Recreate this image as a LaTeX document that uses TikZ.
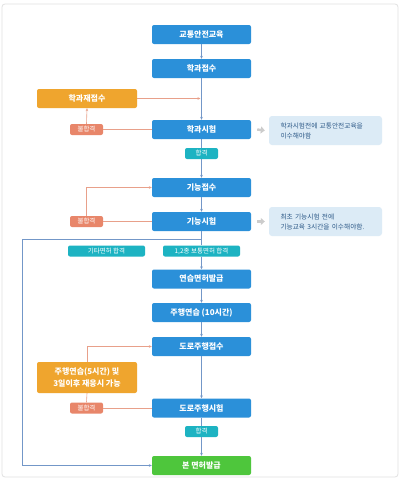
\documentclass[tikz,border=0pt]{standalone}
\usepackage{fontspec}
\setmainfont{Noto Sans CJK KR}
\usetikzlibrary{arrows.meta}
\definecolor{boxblue}{HTML}{2B90D9}
\definecolor{boxorange}{HTML}{EFA52E}
\definecolor{boxsalmon}{HTML}{E8866A}
\definecolor{boxteal}{HTML}{1DB3C2}
\definecolor{boxgreen}{HTML}{4EC63C}
\definecolor{notebg}{HTML}{DCEBF6}
\definecolor{notetext}{HTML}{2E5A88}
\definecolor{lineblue}{HTML}{7397C8}
\definecolor{lineorange}{HTML}{E8A08A}
\definecolor{framegray}{HTML}{E2E2E2}
\begin{document}
\begin{tikzpicture}[x=1pt,y=-1pt,
  every node/.style={inner sep=0pt},
  mainbox/.style={rounded corners=2pt, fill=boxblue, text=white, minimum width=99pt, minimum height=19pt, font=\bfseries\fontsize{8}{9}\selectfont},
  greenbox/.style={mainbox, fill=boxgreen},
  orangebox/.style={rounded corners=2pt, fill=boxorange, text=white, minimum width=100pt, minimum height=19pt, align=center, font=\bfseries\fontsize{8}{11.7}\selectfont},
  faillabel/.style={rounded corners=2pt, fill=boxsalmon, text=white, minimum width=33pt, minimum height=11pt, font=\fontsize{6.5}{7}\selectfont},
  passlabel/.style={rounded corners=2pt, fill=boxteal, text=white, minimum width=33pt, minimum height=11pt, font=\fontsize{6.5}{7}\selectfont},
  notebox/.style={rounded corners=3pt, fill=notebg, text=notetext, text width=90pt, inner xsep=11.5pt, minimum height=29pt, align=left, font=\fontsize{6.7}{10}\selectfont},
  bluearrow/.style={draw=lineblue, line width=0.6pt, -{Stealth[length=3pt,width=2.6pt]}},
  blueline/.style={draw=lineblue, line width=0.6pt},
  orangearrow/.style={draw=lineorange, line width=0.6pt, -{Stealth[length=3pt,width=2.6pt]}},
  orangeline/.style={draw=lineorange, line width=0.6pt},
  grayarrow/.style={draw=gray!40, line width=2.4pt, -{Triangle[length=4pt,width=7pt]}}
]
\useasboundingbox (0,0) rectangle (400,479);
\fill[white] (0,0) rectangle (400,479);
\draw[framegray, line width=0.8pt, rounded corners=3pt] (2,4) rectangle (398,477);

% main column
\node[mainbox] (n1) at (201.5,34.5) {교통안전교육};
\node[mainbox] (n2) at (201.5,68.5) {학과접수};
\node[orangebox] (re1) at (87,98.5) {학과재접수};
\node[mainbox] (n3) at (201.5,129.5) {학과시험};
\node[faillabel] (f1) at (86.5,129.5) {불합격};
\node[notebox] (note1) at (325.5,130.5) {학과시험전에 교통안전교육을\\이수해야함};
\node[passlabel] (p1) at (201.5,153.5) {합격};
\node[mainbox] (n4) at (201.5,187.5) {기능접수};
\node[mainbox] (n5) at (201.5,221.5) {기능시험};
\node[faillabel] (f2) at (86.5,221.5) {불합격};
\node[notebox] (note2) at (325.5,221.5) {최초 기능시험 전에\\기능교육 3시간을 이수해야함.};
\node[passlabel, minimum width=77pt] (p2) at (106.5,251) {기타면허 합격};
\node[passlabel, minimum width=77pt] (p3) at (201.5,251) {1,2종 보통면허 합격};
\node[mainbox] (n6) at (201.5,279) {연습면허발급};
\node[mainbox] (n7) at (201.5,312.5) {주행연습 (10시간)};
\node[mainbox] (n8) at (201.5,346.5) {도로주행접수};
\node[orangebox, minimum height=31pt] (re2) at (87,377.5) {주행연습(5시간) 및\\3일이후 재응시 가능};
\node[mainbox] (n9) at (201.5,408) {도로주행시험};
\node[faillabel] (f3) at (86.5,408) {불합격};
\node[passlabel] (p4) at (201.5,431.5) {합격};
\node[greenbox] (n10) at (201.5,465.5) {본 면허발급};

\coordinate (j1) at (200.5,98.5);
\coordinate (j2) at (201.5,239);
\coordinate (lc) at (22,465.5);

% main flow
\draw[bluearrow] (n1) -- (n2);
\draw[bluearrow] (n2) -- (n3);
\draw[blueline] (n3) -- (p1);
\draw[bluearrow] (p1) -- (n4);
\draw[bluearrow] (n4) -- (n5);
\draw[blueline] (n5) -- (p3);
\draw[bluearrow] (p3) -- (n6);
\draw[bluearrow] (n6) -- (n7);
\draw[bluearrow] (n7) -- (n8);
\draw[bluearrow] (n8) -- (n9);
\draw[blueline] (n9) -- (p4);
\draw[bluearrow] (p4) -- (n10);
\draw[bluearrow] (j2) -| (lc) -- (n10.west);

% retry loops
\draw[orangearrow] (re1.east) -- (j1);
\draw[orangeline] (n3.west) -- (f1.east);
\draw[orangearrow] (f1.north) -- (re1.south);
\draw[orangeline] (n5.west) -- (f2.east);
\draw[orangearrow] (f2.north) |- (n4.west);
\draw[orangeline] (n9.west) -- (f3.east);
\draw[orangeline] (f3.north) -- (re2.south);
\draw[orangearrow] (re2.north) |- (n8.west);

% notes
\draw[grayarrow] ([xshift=6pt]n3.east) -- ([xshift=-4pt]note1.west);
\draw[grayarrow] ([xshift=6pt]n5.east) -- ([xshift=-4pt]note2.west);
\end{tikzpicture}
\end{document}
